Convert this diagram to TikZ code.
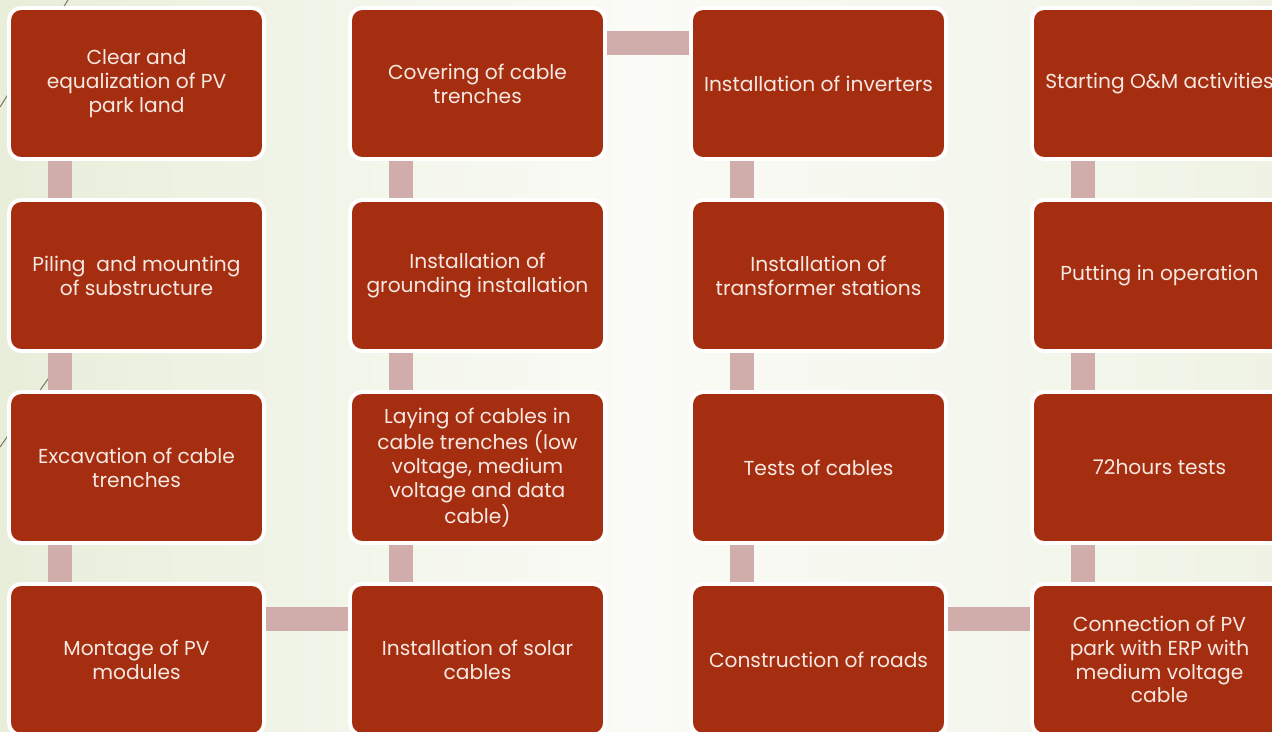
\documentclass[tikz,border=0pt]{standalone}
\usepackage{fontspec}
\setmainfont{Poppins}
\usetikzlibrary{calc}

\definecolor{brick}{RGB}{166,46,16}
\definecolor{joint}{RGB}{208,172,170}
\definecolor{paper}{RGB}{250,251,246}
\definecolor{paperedge}{RGB}{232,238,218}
\definecolor{wisp}{RGB}{125,125,105}
\definecolor{boxtext}{RGB}{246,232,226}

\tikzset{
 task/.style={draw=white, line width=2.2pt, fill=brick, rounded corners=0.24cm,
  text=boxtext, align=center, inner sep=0pt,
  minimum width=5.1cm, minimum height=3.02cm,
  font=\fontsize{11.5}{13.6}\selectfont},
 joint/.style={fill=joint},
}

\begin{document}
\begin{tikzpicture}[x=0.02cm, y=-0.02cm]
\useasboundingbox (0,0) rectangle (1272,731);
\shade[left color=paperedge, right color=paperedge!60!paper, middle color=paper] (0,0) rectangle (1272,731);
% thin theme lines at the left edge
\draw[wisp, line width=0.6pt] (0,107) -- (68,0);
\draw[wisp, line width=0.6pt] (0,447) -- (60,362);

% column 1
\node[task] (clear)   at (136.5,83.5)  {Clear and\\equalization of PV\\park land};
\node[task] (piling)  at (136.5,275.5) {Piling\ \ and mounting\\of substructure};
\node[task] (excav)   at (136.5,467.5) {Excavation of cable\\trenches};
\node[task] (montage) at (136.5,659.5) {Montage of PV\\modules};
% column 2
\node[task] (covering)  at (477.5,83.5)  {Covering of cable\\trenches};
\node[task] (grounding) at (477.5,275.5) {Installation of\\grounding installation};
\node[task] (laying)    at (477.5,467.5) {Laying of cables in\\cable trenches (low\\voltage, medium\\voltage and data\\cable)};
\node[task] (solar)     at (477.5,659.5) {Installation of solar\\cables};
% column 3
\node[task] (inverters) at (818.5,83.5)  {Installation of inverters};
\node[task] (trafo)     at (818.5,275.5) {Installation of\\transformer stations};
\node[task] (tests)     at (818.5,467.5) {Tests of cables};
\node[task] (roads)     at (818.5,659.5) {Construction of roads};
% column 4
\node[task] (om)        at (1159.5,83.5)  {Starting O\&M activities};
\node[task] (operation) at (1159.5,275.5) {Putting in operation};
\node[task] (hours)     at (1159.5,467.5) {72hours tests};
\node[task] (erp)       at (1159.5,659.5) {Connection of PV\\park with ERP with\\medium voltage\\cable};

% vertical joints
\foreach \a/\b in {clear/piling, piling/excav, excav/montage,
  covering/grounding, grounding/laying, laying/solar,
  inverters/trafo, trafo/tests, tests/roads,
  om/operation, operation/hours, hours/erp}
 \fill[joint] ($(\a.south west)+(41,0)$) rectangle ($(\b.north west)+(65,0)$);
% horizontal joints
\foreach \a/\b in {montage/solar, covering/inverters, roads/erp}
 \fill[joint] ($(\a.north east)+(0,25)$) rectangle ($(\b.north west)+(0,49)$);
\end{tikzpicture}
\end{document}
